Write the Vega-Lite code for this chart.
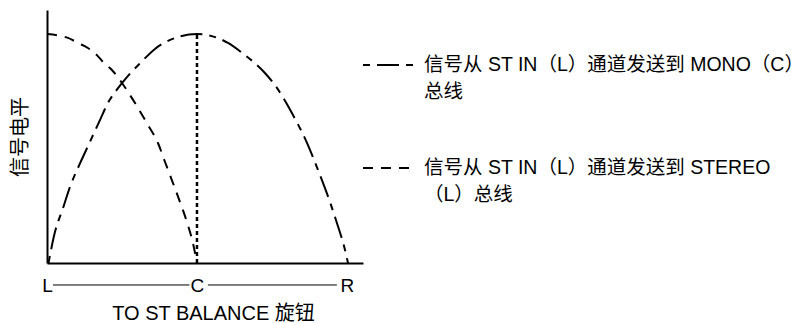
{
  "$schema": "https://vega.github.io/schema/vega-lite/v6.json",
  "width": 316,
  "height": 253,
  "autosize": "none",
  "padding": {"left": 47, "top": 10, "right": 446, "bottom": 60},
  "background": "white",
  "config": {
    "view": {"stroke": null},
    "font": "Liberation Sans, 'Noto Sans CJK SC'"
  },
  "datasets": {
    "curves": [
      {"series": "STEREO", "x": 0, "y": 1.0},
      {"series": "STEREO", "x": 0.14, "y": 0.983},
      {"series": "STEREO", "x": 0.207, "y": 0.961},
      {"series": "STEREO", "x": 0.273, "y": 0.939},
      {"series": "STEREO", "x": 0.333, "y": 0.908},
      {"series": "STEREO", "x": 0.373, "y": 0.878},
      {"series": "STEREO", "x": 0.433, "y": 0.843},
      {"series": "STEREO", "x": 0.5, "y": 0.786},
      {"series": "STEREO", "x": 0.553, "y": 0.734},
      {"series": "STEREO", "x": 0.607, "y": 0.677},
      {"series": "STEREO", "x": 0.673, "y": 0.603},
      {"series": "STEREO", "x": 0.74, "y": 0.524},
      {"series": "STEREO", "x": 0.787, "y": 0.441},
      {"series": "STEREO", "x": 0.84, "y": 0.349},
      {"series": "STEREO", "x": 0.887, "y": 0.266},
      {"series": "STEREO", "x": 0.933, "y": 0.179},
      {"series": "STEREO", "x": 0.973, "y": 0.087},
      {"series": "STEREO", "x": 1.0, "y": 0.0},
      {"series": "MONO", "x": 0.01, "y": 0.0},
      {"series": "MONO", "x": 0.053, "y": 0.135},
      {"series": "MONO", "x": 0.107, "y": 0.24},
      {"series": "MONO", "x": 0.153, "y": 0.332},
      {"series": "MONO", "x": 0.22, "y": 0.435},
      {"series": "MONO", "x": 0.287, "y": 0.53},
      {"series": "MONO", "x": 0.353, "y": 0.624},
      {"series": "MONO", "x": 0.407, "y": 0.7},
      {"series": "MONO", "x": 0.467, "y": 0.758},
      {"series": "MONO", "x": 0.533, "y": 0.812},
      {"series": "MONO", "x": 0.62, "y": 0.872},
      {"series": "MONO", "x": 0.72, "y": 0.935},
      {"series": "MONO", "x": 0.873, "y": 0.987},
      {"series": "MONO", "x": 1.0, "y": 1.0},
      {"series": "MONO", "x": 1.067, "y": 0.996},
      {"series": "MONO", "x": 1.207, "y": 0.961},
      {"series": "MONO", "x": 1.3, "y": 0.918},
      {"series": "MONO", "x": 1.453, "y": 0.83},
      {"series": "MONO", "x": 1.52, "y": 0.777},
      {"series": "MONO", "x": 1.633, "y": 0.655},
      {"series": "MONO", "x": 1.74, "y": 0.515},
      {"series": "MONO", "x": 1.807, "y": 0.406},
      {"series": "MONO", "x": 1.887, "y": 0.266},
      {"series": "MONO", "x": 1.933, "y": 0.175},
      {"series": "MONO", "x": 1.987, "y": 0.057},
      {"series": "MONO", "x": 2.007, "y": 0.0}
    ],
    "center": [{"x": 1, "y": 0, "y2": 1}],
    "connectors": [
      {"segment": "L-C", "start": 0.04, "end": 0.95},
      {"segment": "C-R", "start": 1.073, "end": 1.933}
    ]
  },
  "layer": [
    {
      "data": {"name": "curves"},
      "mark": {"type": "line", "interpolate": "monotone", "strokeWidth": 2, "color": "black"},
      "encoding": {
        "x": {
          "field": "x", "type": "quantitative",
          "scale": {"domain": [0, 2.107], "nice": false, "zero": false},
          "axis": {
            "values": [0, 1, 2],
            "labelExpr": "datum.value == 0 ? 'L' : datum.value == 1 ? 'C' : 'R'",
            "ticks": false, "grid": false,
            "domainColor": "black", "domainWidth": 2,
            "labelFontSize": 19, "labelColor": "black", "labelPadding": 13,
            "labelFlush": false, "labelOverlap": false,
            "title": "TO ST BALANCE 旋钮", "titleFontSize": 20, "titleFontWeight": "normal",
            "titleColor": "black", "titlePadding": 8, "titleX": 166
          }
        },
        "y": {
          "field": "y", "type": "quantitative",
          "scale": {"domain": [0, 1.105], "nice": false},
          "axis": {
            "ticks": false, "labels": false, "grid": false,
            "domainColor": "black", "domainWidth": 2,
            "title": "信号电平", "titleFontSize": 20, "titleFontWeight": "normal",
            "titleColor": "black", "titlePadding": 17
          }
        },
        "strokeDash": {
          "field": "series", "type": "nominal",
          "scale": {"domain": ["MONO", "STEREO"], "range": [[7, 7, 22, 7], [10, 8]]},
          "legend": {
            "orient": "none", "legendX": 315, "legendY": 29, "title": null, "padding": 0,
            "symbolType": "stroke", "symbolSize": 2500, "symbolStrokeWidth": 2,
            "symbolStrokeColor": "black",
            "labelFontSize": 19.5, "labelColor": "black", "labelOffset": 10, "labelLimit": 0,
            "labelBaseline": "middle", "rowPadding": 40,
            "labelExpr": "datum.label == 'STEREO' ? ['信号从 ST IN（L）通道发送到 STEREO', '（L）总线'] : ['信号从 ST IN（L）通道发送到 MONO（C）', '总线']",
            "encode": {"labels": {"update": {"lineHeight": {"value": 27}}}}
          }
        }
      }
    },
    {
      "data": {"name": "center"},
      "mark": {"type": "rule", "strokeDash": [4, 3], "strokeWidth": 2.5, "color": "black"},
      "encoding": {
        "x": {"field": "x", "type": "quantitative"},
        "y": {"field": "y", "type": "quantitative"},
        "y2": {"field": "y2"}
      }
    },
    {
      "data": {"name": "connectors"},
      "mark": {"type": "rule", "strokeWidth": 1, "color": "black"},
      "encoding": {
        "x": {"field": "start", "type": "quantitative"},
        "x2": {"field": "end"},
        "y": {"datum": -0.096, "type": "quantitative"}
      }
    }
  ]
}
